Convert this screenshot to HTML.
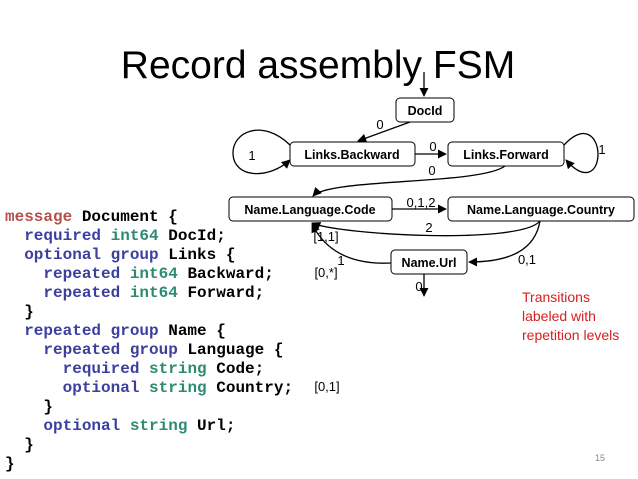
<!DOCTYPE html>
<html><head><meta charset="utf-8"><style>
body{margin:0;width:638px;height:479px;background:#fff;overflow:hidden}
svg{display:block}
.c{font-family:"Liberation Mono",monospace;font-weight:bold;font-size:16px}
.k{fill:#3b3f9e}.t{fill:#2f8a72}.m{fill:#b5504c}
.b{font-family:"Liberation Sans",sans-serif;font-weight:bold;font-size:12.5px}
.l{font-family:"Liberation Sans",sans-serif;font-size:13px}
</style></head><body>
<svg width="638" height="479" viewBox="0 0 638 479">
<defs><marker id="a" viewBox="0 0 10 10" refX="9" refY="5" markerWidth="7" markerHeight="7" orient="auto"><path d="M0,0L10,5L0,10z" fill="#000"/></marker></defs>
<text x="318" y="78" text-anchor="middle" font-family="Liberation Sans,sans-serif" font-size="39">Record assembly FSM</text>
<g fill="#fff" stroke="#000" stroke-width="1">
<rect x="396" y="98" width="58" height="24" rx="4"/>
<rect x="290" y="142" width="125" height="24" rx="4"/>
<rect x="448" y="142" width="116" height="24" rx="4"/>
<rect x="229" y="197" width="163" height="24" rx="4"/>
<rect x="448" y="197" width="186" height="24" rx="4"/>
<rect x="391" y="250" width="76" height="24" rx="4"/>
</g>
<g class="b" text-anchor="middle">
<text x="425" y="115">DocId</text>
<text x="352" y="159">Links.Backward</text>
<text x="506" y="159">Links.Forward</text>
<text x="310" y="214">Name.Language.Code</text>
<text x="541" y="214">Name.Language.Country</text>
<text x="429" y="267">Name.Url</text>
</g>
<g fill="none" stroke="#000" stroke-width="1.3" marker-end="url(#a)">
<path d="M424,72V96"/>
<path d="M410,122L358,141"/>
<path d="M415,154H446"/>
<path d="M290,145C262,118 232,132 233,154C234,178 268,180 290,160"/>
<path d="M564,145C585,122 598,138 598,154C598,172 585,182 566,160"/>
<path d="M505,166C480,185 330,178 313,196"/>
<path d="M392,209H446"/>
<path d="M540,221C520,245 340,235 312,223"/>
<path d="M540,221C535,250 510,262 469,262"/>
<path d="M391,263C350,265 325,250 312,224"/>
<path d="M424,274V296"/>
</g>
<g class="l" text-anchor="middle">
<text x="380" y="129">0</text>
<text x="433" y="151">0</text>
<text x="252" y="160">1</text>
<text x="602" y="154">1</text>
<text x="432" y="175">0</text>
<text x="421" y="207">0,1,2</text>
<text x="429" y="232">2</text>
<text x="527" y="264">0,1</text>
<text x="341" y="265">1</text>
<text x="419" y="291">0</text>
<text x="326" y="241">[1,1]</text>
<text x="326" y="277">[0,*]</text>
<text x="327" y="391">[0,1]</text>
</g>
<g font-family="Liberation Sans,sans-serif" font-size="14" fill="#d42020">
<text x="522" y="302">Transitions</text>
<text x="522" y="321">labeled with</text>
<text x="522" y="340">repetition levels</text>
</g>
<text x="595" y="461" font-family="Liberation Sans,sans-serif" font-size="9" fill="#888">15</text>
<g class="c">
<text x="5" y="221" xml:space="preserve"><tspan class="m">message</tspan> Document {</text>
<text x="5" y="240" xml:space="preserve">  <tspan class="k">required</tspan> <tspan class="t">int64</tspan> DocId;</text>
<text x="5" y="259" xml:space="preserve">  <tspan class="k">optional group</tspan> Links {</text>
<text x="5" y="278" xml:space="preserve">    <tspan class="k">repeated</tspan> <tspan class="t">int64</tspan> Backward;</text>
<text x="5" y="297" xml:space="preserve">    <tspan class="k">repeated</tspan> <tspan class="t">int64</tspan> Forward;</text>
<text x="5" y="316" xml:space="preserve">  }</text>
<text x="5" y="335" xml:space="preserve">  <tspan class="k">repeated group</tspan> Name {</text>
<text x="5" y="354" xml:space="preserve">    <tspan class="k">repeated group</tspan> Language {</text>
<text x="5" y="373" xml:space="preserve">      <tspan class="k">required</tspan> <tspan class="t">string</tspan> Code;</text>
<text x="5" y="392" xml:space="preserve">      <tspan class="k">optional</tspan> <tspan class="t">string</tspan> Country;</text>
<text x="5" y="411" xml:space="preserve">    }</text>
<text x="5" y="430" xml:space="preserve">    <tspan class="k">optional</tspan> <tspan class="t">string</tspan> Url;</text>
<text x="5" y="449" xml:space="preserve">  }</text>
<text x="5" y="468" xml:space="preserve">}</text>
</g>
</svg>
</body></html>
